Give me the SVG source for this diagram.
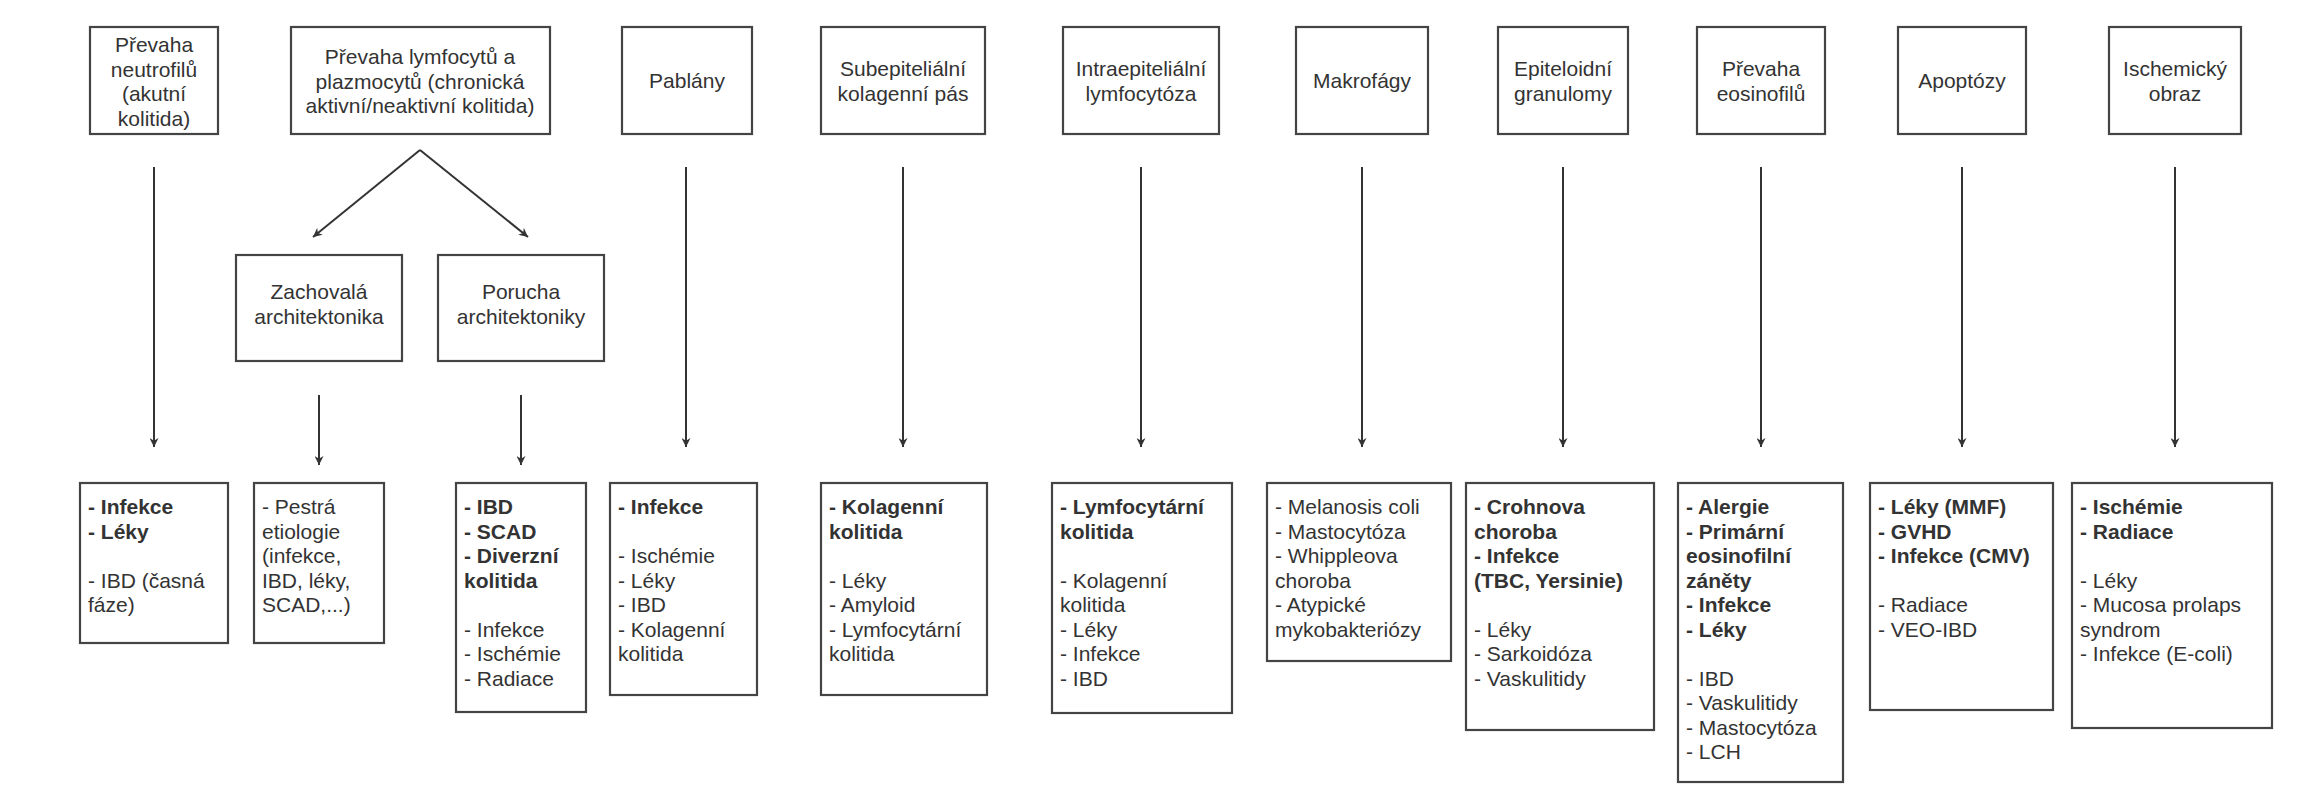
<svg xmlns="http://www.w3.org/2000/svg" width="2306" height="800" viewBox="0 0 2306 800">
<style>
rect{fill:#fff;stroke:#444;stroke-width:2.2}
text{font-family:"Liberation Sans",Arial,sans-serif;font-size:21px;fill:#333}
.c{text-anchor:middle}
.b{font-weight:bold}
.con line{stroke:#333;stroke-width:2}
</style>
<defs>
<marker id="ah" viewBox="0 0 10 10" refX="10" refY="5" markerWidth="9" markerHeight="9" markerUnits="userSpaceOnUse" orient="auto"><path d="M0,0 L10,5 L0,10 L3,5 z" fill="#333"/></marker>
</defs>
<rect x="0" y="0" width="2306" height="800" style="fill:#fff;stroke:none"/>
<g id="t1"><rect x="90" y="27" width="128" height="107"/><text class="c" x="154" y="52">Převaha</text><text class="c" x="154" y="76.5">neutrofilů</text><text class="c" x="154" y="101">(akutní</text><text class="c" x="154" y="125.5">kolitida)</text></g>
<g id="t2"><rect x="291" y="27" width="259" height="107"/><text class="c" x="420" y="64">Převaha lymfocytů a</text><text class="c" x="420" y="88.5">plazmocytů (chronická</text><text class="c" x="420" y="113">aktivní/neaktivní kolitida)</text></g>
<g id="t3"><rect x="622" y="27" width="130" height="107"/><text class="c" x="687" y="88">Pablány</text></g>
<g id="t4"><rect x="821" y="27" width="164" height="107"/><text class="c" x="903" y="76">Subepiteliální</text><text class="c" x="903" y="100.5">kolagenní pás</text></g>
<g id="t5"><rect x="1063" y="27" width="156" height="107"/><text class="c" x="1141" y="76">Intraepiteliální</text><text class="c" x="1141" y="100.5">lymfocytóza</text></g>
<g id="t6"><rect x="1296" y="27" width="132" height="107"/><text class="c" x="1362" y="88">Makrofágy</text></g>
<g id="t7"><rect x="1498" y="27" width="130" height="107"/><text class="c" x="1563" y="76">Epiteloidní</text><text class="c" x="1563" y="100.5">granulomy</text></g>
<g id="t8"><rect x="1697" y="27" width="128" height="107"/><text class="c" x="1761" y="76">Převaha</text><text class="c" x="1761" y="100.5">eosinofilů</text></g>
<g id="t9"><rect x="1898" y="27" width="128" height="107"/><text class="c" x="1962" y="88">Apoptózy</text></g>
<g id="t10"><rect x="2109" y="27" width="132" height="107"/><text class="c" x="2175" y="76">Ischemický</text><text class="c" x="2175" y="100.5">obraz</text></g>
<g id="m1"><rect x="236" y="255" width="166" height="106"/><text class="c" x="319" y="299">Zachovalá</text><text class="c" x="319" y="323.5">architektonika</text></g>
<g id="m2"><rect x="438" y="255" width="166" height="106"/><text class="c" x="521" y="299">Porucha</text><text class="c" x="521" y="323.5">architektoniky</text></g>
<g id="b1"><rect x="80" y="483" width="148" height="160"/><text x="88" y="514"><tspan class="b">- Infekce</tspan><tspan class="b" x="88" dy="24.5">- Léky</tspan><tspan x="88" dy="49">- IBD (časná</tspan><tspan x="88" dy="24.5">fáze)</tspan></text></g>
<g id="b2"><rect x="254" y="483" width="130" height="160"/><text x="262" y="514">- Pestrá<tspan x="262" dy="24.5">etiologie</tspan><tspan x="262" dy="24.5">(infekce,</tspan><tspan x="262" dy="24.5">IBD, léky,</tspan><tspan x="262" dy="24.5">SCAD,...)</tspan></text></g>
<g id="b3"><rect x="456" y="483" width="130" height="229"/><text x="464" y="514"><tspan class="b">- IBD</tspan><tspan class="b" x="464" dy="24.5">- SCAD</tspan><tspan class="b" x="464" dy="24.5">- Diverzní</tspan><tspan class="b" x="464" dy="24.5">kolitida</tspan><tspan x="464" dy="49">- Infekce</tspan><tspan x="464" dy="24.5">- Ischémie</tspan><tspan x="464" dy="24.5">- Radiace</tspan></text></g>
<g id="b4"><rect x="610" y="483" width="147" height="212"/><text x="618" y="514"><tspan class="b">- Infekce</tspan><tspan x="618" dy="49">- Ischémie</tspan><tspan x="618" dy="24.5">- Léky</tspan><tspan x="618" dy="24.5">- IBD</tspan><tspan x="618" dy="24.5">- Kolagenní</tspan><tspan x="618" dy="24.5">kolitida</tspan></text></g>
<g id="b5"><rect x="821" y="483" width="166" height="212"/><text x="829" y="514"><tspan class="b">- Kolagenní</tspan><tspan class="b" x="829" dy="24.5">kolitida</tspan><tspan x="829" dy="49">- Léky</tspan><tspan x="829" dy="24.5">- Amyloid</tspan><tspan x="829" dy="24.5">- Lymfocytární</tspan><tspan x="829" dy="24.5">kolitida</tspan></text></g>
<g id="b6"><rect x="1052" y="483" width="180" height="230"/><text x="1060" y="514"><tspan class="b">- Lymfocytární</tspan><tspan class="b" x="1060" dy="24.5">kolitida</tspan><tspan x="1060" dy="49">- Kolagenní</tspan><tspan x="1060" dy="24.5">kolitida</tspan><tspan x="1060" dy="24.5">- Léky</tspan><tspan x="1060" dy="24.5">- Infekce</tspan><tspan x="1060" dy="24.5">- IBD</tspan></text></g>
<g id="b7"><rect x="1267" y="483" width="184" height="178"/><text x="1275" y="514">- Melanosis coli<tspan x="1275" dy="24.5">- Mastocytóza</tspan><tspan x="1275" dy="24.5">- Whippleova</tspan><tspan x="1275" dy="24.5">choroba</tspan><tspan x="1275" dy="24.5">- Atypické</tspan><tspan x="1275" dy="24.5">mykobakteriózy</tspan></text></g>
<g id="b8"><rect x="1466" y="483" width="188" height="247"/><text x="1474" y="514"><tspan class="b">- Crohnova</tspan><tspan class="b" x="1474" dy="24.5">choroba</tspan><tspan class="b" x="1474" dy="24.5">- Infekce</tspan><tspan class="b" x="1474" dy="24.5">(TBC, Yersinie)</tspan><tspan x="1474" dy="49">- Léky</tspan><tspan x="1474" dy="24.5">- Sarkoidóza</tspan><tspan x="1474" dy="24.5">- Vaskulitidy</tspan></text></g>
<g id="b9"><rect x="1678" y="483" width="165" height="299"/><text x="1686" y="514"><tspan class="b">- Alergie</tspan><tspan class="b" x="1686" dy="24.5">- Primární</tspan><tspan class="b" x="1686" dy="24.5">eosinofilní</tspan><tspan class="b" x="1686" dy="24.5">záněty</tspan><tspan class="b" x="1686" dy="24.5">- Infekce</tspan><tspan class="b" x="1686" dy="24.5">- Léky</tspan><tspan x="1686" dy="49">- IBD</tspan><tspan x="1686" dy="24.5">- Vaskulitidy</tspan><tspan x="1686" dy="24.5">- Mastocytóza</tspan><tspan x="1686" dy="24.5">- LCH</tspan></text></g>
<g id="b10"><rect x="1870" y="483" width="183" height="227"/><text x="1878" y="514"><tspan class="b">- Léky (MMF)</tspan><tspan class="b" x="1878" dy="24.5">- GVHD</tspan><tspan class="b" x="1878" dy="24.5">- Infekce (CMV)</tspan><tspan x="1878" dy="49">- Radiace</tspan><tspan x="1878" dy="24.5">- VEO-IBD</tspan></text></g>
<g id="b11"><rect x="2072" y="483" width="200" height="245"/><text x="2080" y="514"><tspan class="b">- Ischémie</tspan><tspan class="b" x="2080" dy="24.5">- Radiace</tspan><tspan x="2080" dy="49">- Léky</tspan><tspan x="2080" dy="24.5">- Mucosa prolaps</tspan><tspan x="2080" dy="24.5">syndrom</tspan><tspan x="2080" dy="24.5">- Infekce (E-coli)</tspan></text></g>
<g class="con" id="connectors">
<line x1="154" y1="167" x2="154" y2="447" marker-end="url(#ah)"/>
<line x1="420" y1="150" x2="313" y2="237" marker-end="url(#ah)"/>
<line x1="420" y1="150" x2="528" y2="237" marker-end="url(#ah)"/>
<line x1="319" y1="395" x2="319" y2="465" marker-end="url(#ah)"/>
<line x1="521" y1="395" x2="521" y2="465" marker-end="url(#ah)"/>
<line x1="686" y1="167" x2="686" y2="447" marker-end="url(#ah)"/>
<line x1="903" y1="167" x2="903" y2="447" marker-end="url(#ah)"/>
<line x1="1141" y1="167" x2="1141" y2="447" marker-end="url(#ah)"/>
<line x1="1362" y1="167" x2="1362" y2="447" marker-end="url(#ah)"/>
<line x1="1563" y1="167" x2="1563" y2="447" marker-end="url(#ah)"/>
<line x1="1761" y1="167" x2="1761" y2="447" marker-end="url(#ah)"/>
<line x1="1962" y1="167" x2="1962" y2="447" marker-end="url(#ah)"/>
<line x1="2175" y1="167" x2="2175" y2="447" marker-end="url(#ah)"/>
</g>
</svg>
